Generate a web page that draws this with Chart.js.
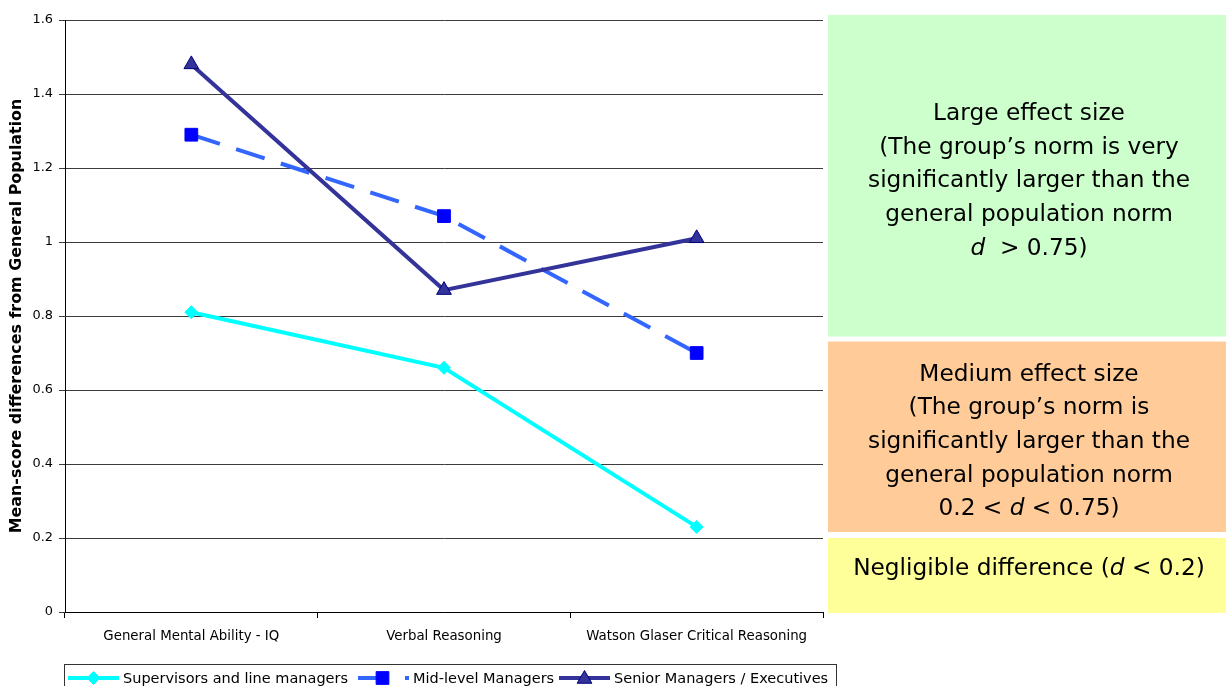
<!DOCTYPE html>
<html>
<head>
<meta charset="utf-8">
<title>Mean-score differences from General Population</title>
<script src="https://cdn.jsdelivr.net/npm/chart.js@4/dist/chart.umd.min.js"></script>
<style>
  html, body { margin: 0; padding: 0; background: #ffffff; overflow: hidden; }
  #wrap { width: 1226px; height: 686px; position: relative; }
  canvas { display: block; }
</style>
</head>
<body>
<div id="wrap"><canvas id="chart" width="1226" height="686"></canvas></div>
<script>
// ---- data ----
const categories = ['General Mental Ability - IQ', 'Verbal Reasoning', 'Watson Glaser Critical Reasoning'];
const seriesNames = ['Supervisors and line managers', 'Mid-level Managers', 'Senior Managers / Executives'];
const supervisors = [0.81, 0.66, 0.23];
const midLevel = [1.29, 1.07, 0.70];
const senior = [1.48, 0.87, 1.01];
const yTickValues = [0, 0.2, 0.4, 0.6, 0.8, 1, 1.2, 1.4, 1.6];
const yTitle = 'Mean-score differences from General Population';

// effect-size bands (Cohen's d thresholds)
const largeThreshold = 0.75;
const mediumThreshold = 0.2;
const bandLarge = [
  ['Large effect size'],
  ['(The group\u2019s norm is very'],
  ['significantly larger than the'],
  ['general population norm'],
  [{ t: 'd', i: true }, '  > 0.75)']
];
const bandMedium = [
  ['Medium effect size'],
  ['(The group\u2019s norm is'],
  ['significantly larger than the'],
  ['general population norm'],
  ['0.2 < ', { t: 'd', i: true }, ' < 0.75)']
];
const bandSmall = [
  ['Negligible difference (', { t: 'd', i: true }, ' < 0.2)']
];

// ---- fonts ----
const FAMILY = '"DejaVu Sans", Verdana, sans-serif';
const meas = document.createElement('canvas').getContext('2d');
function fitSize(text, target, weight) {
  meas.font = (weight || 'normal') + ' 100px ' + FAMILY;
  return +(100 * target / meas.measureText(text).width).toFixed(2);
}
const tickSize = fitSize(categories[0], 176);
const yTickSize = fitSize('0.8', 20.5);
const titleSize = fitSize(yTitle, 435, 'bold');
const legendSize = fitSize(seriesNames[0], 225);
const boxSize = fitSize('significantly larger than the', 322);

const styles = [
  { line: '#00FFFF', fill: '#00FFFF', edge: '#00FFFF', point: 'rectRot', radius: 6.5, dash: [] },
  { line: '#3366FF', fill: '#0000FF', edge: '#0000FF', point: 'rect', radius: 9, dash: [30, 17] },
  { line: '#333399', fill: '#333399', edge: '#000080', point: 'triangle', radius: 8.5, dash: [] }
];
const seriesValues = [supervisors, midLevel, senior];

// ---- effect-size boxes beside the plot ----
const bandBoxes = {
  id: 'bandBoxes',
  afterDraw(chart) {
    const ctx = chart.ctx;
    const y = chart.scales.y;
    const area = chart.chartArea;
    const x0 = area.right + 5;
    const x1 = chart.width;
    const cx = (x0 + x1) / 2 + 2;
    const lineGap = 33.7;
    const boxes = [
      { top: y.getPixelForValue(y.max) - 5, bottom: y.getPixelForValue(largeThreshold) + 2, color: '#CCFFCC', lines: bandLarge, first: 105 },
      { top: y.getPixelForValue(largeThreshold) + 7, bottom: y.getPixelForValue(mediumThreshold) - 6, color: '#FFCC99', lines: bandMedium, first: 39 },
      { top: y.getPixelForValue(mediumThreshold), bottom: y.getPixelForValue(0) + 1, color: '#FFFF99', lines: bandSmall, first: 37 }
    ];
    ctx.save();
    boxes.forEach(b => {
      ctx.fillStyle = b.color;
      ctx.fillRect(x0, b.top, x1 - x0, b.bottom - b.top);
      ctx.fillStyle = '#000000';
      ctx.textBaseline = 'alphabetic';
      ctx.textAlign = 'left';
      b.lines.forEach((parts, k) => {
        const segs = parts.map(p => typeof p === 'string' ? { t: p, i: false } : p);
        let w = 0;
        segs.forEach(s => {
          ctx.font = (s.i ? 'italic ' : '') + boxSize + 'px ' + FAMILY;
          s.w = ctx.measureText(s.t).width;
          w += s.w;
        });
        let x = cx - w / 2;
        const by = b.top + b.first + k * lineGap;
        segs.forEach(s => {
          ctx.font = (s.i ? 'italic ' : '') + boxSize + 'px ' + FAMILY;
          ctx.fillText(s.t, x, by);
          x += s.w;
        });
      });
    });
    ctx.restore();
  }
};

// ---- legend box under the axis ----
const lineLegend = {
  id: 'lineLegend',
  afterDraw(chart) {
    const ctx = chart.ctx;
    const starts = [68, 358, 559];
    const sample = 51;
    const cy = 678;
    ctx.save();
    ctx.strokeStyle = '#333333';
    ctx.lineWidth = 1;
    ctx.strokeRect(64.5, 664.5, 772, 40);
    chart.data.datasets.forEach((ds, i) => {
      const sx = starts[i];
      ctx.save();
      ctx.strokeStyle = ds.borderColor;
      ctx.lineWidth = ds.borderWidth;
      ctx.setLineDash(ds.borderDash || []);
      ctx.beginPath();
      ctx.moveTo(sx, cy);
      ctx.lineTo(sx + sample, cy);
      ctx.stroke();
      ctx.restore();
      ctx.save();
      ctx.fillStyle = ds.pointBackgroundColor;
      ctx.strokeStyle = ds.pointBorderColor;
      ctx.lineWidth = ds.pointBorderWidth;
      Chart.helpers.drawPoint(ctx, { pointStyle: ds.pointStyle, radius: ds.pointRadius, rotation: 0, borderWidth: ds.pointBorderWidth }, sx + sample / 2 + (i === 1 ? -1 : 0), cy + (i === 2 ? 1 : 0));
      ctx.restore();
      ctx.fillStyle = '#000000';
      ctx.font = legendSize + 'px ' + FAMILY;
      ctx.textBaseline = 'middle';
      ctx.textAlign = 'left';
      ctx.fillText(ds.label, sx + 55, cy + 1);
    });
    ctx.restore();
  }
};

const datasets = seriesNames.map((name, i) => ({
  label: name,
  data: seriesValues[i],
  borderColor: styles[i].line,
  backgroundColor: styles[i].fill,
  borderWidth: 4,
  borderDash: styles[i].dash,
  pointStyle: styles[i].point,
  pointRadius: styles[i].radius,
  pointHoverRadius: styles[i].radius,
  pointBackgroundColor: styles[i].fill,
  pointBorderColor: styles[i].edge,
  pointBorderWidth: 1,
  tension: 0,
  fill: false,
  order: 2 - i
}));

new Chart(document.getElementById('chart'), {
  type: 'line',
  data: { labels: categories, datasets: datasets },
  options: {
    responsive: false,
    animation: false,
    devicePixelRatio: 1,
    layout: { padding: { top: 20, right: 403, left: 0, bottom: 0 } },
    plugins: {
      legend: { display: false },
      tooltip: { enabled: false }
    },
    scales: {
      x: {
        type: 'category',
        offset: true,
        grid: { offset: true, drawOnChartArea: false, drawTicks: true, tickLength: 6, color: '#000000' },
        border: { display: true, color: '#000000', width: 1 },
        ticks: { color: '#000000', font: { family: FAMILY, size: tickSize }, padding: 11, maxRotation: 0, autoSkip: false },
        afterFit(scale) { scale.height = 74; }
      },
      y: {
        min: 0,
        max: 1.6,
        afterBuildTicks(scale) { scale.ticks = yTickValues.map(v => ({ value: v })); },
        ticks: {
          color: '#000000',
          font: { family: FAMILY, size: yTickSize },
          padding: 6,
          callback: v => String(Number(v.toFixed(1)))
        },
        grid: { color: '#3c3c3c', lineWidth: 1, tickLength: 6, drawTicks: true },
        border: { display: true, color: '#000000', width: 1 },
        title: {
          display: true,
          text: yTitle,
          color: '#000000',
          font: { family: FAMILY, size: titleSize, weight: 'bold' },
          padding: { top: 17 - titleSize * 0.6, bottom: 0 }
        },
        afterFit(scale) { scale.width = 65; }
      }
    }
  },
  plugins: [bandBoxes, lineLegend]
});
</script>
</body>
</html>
